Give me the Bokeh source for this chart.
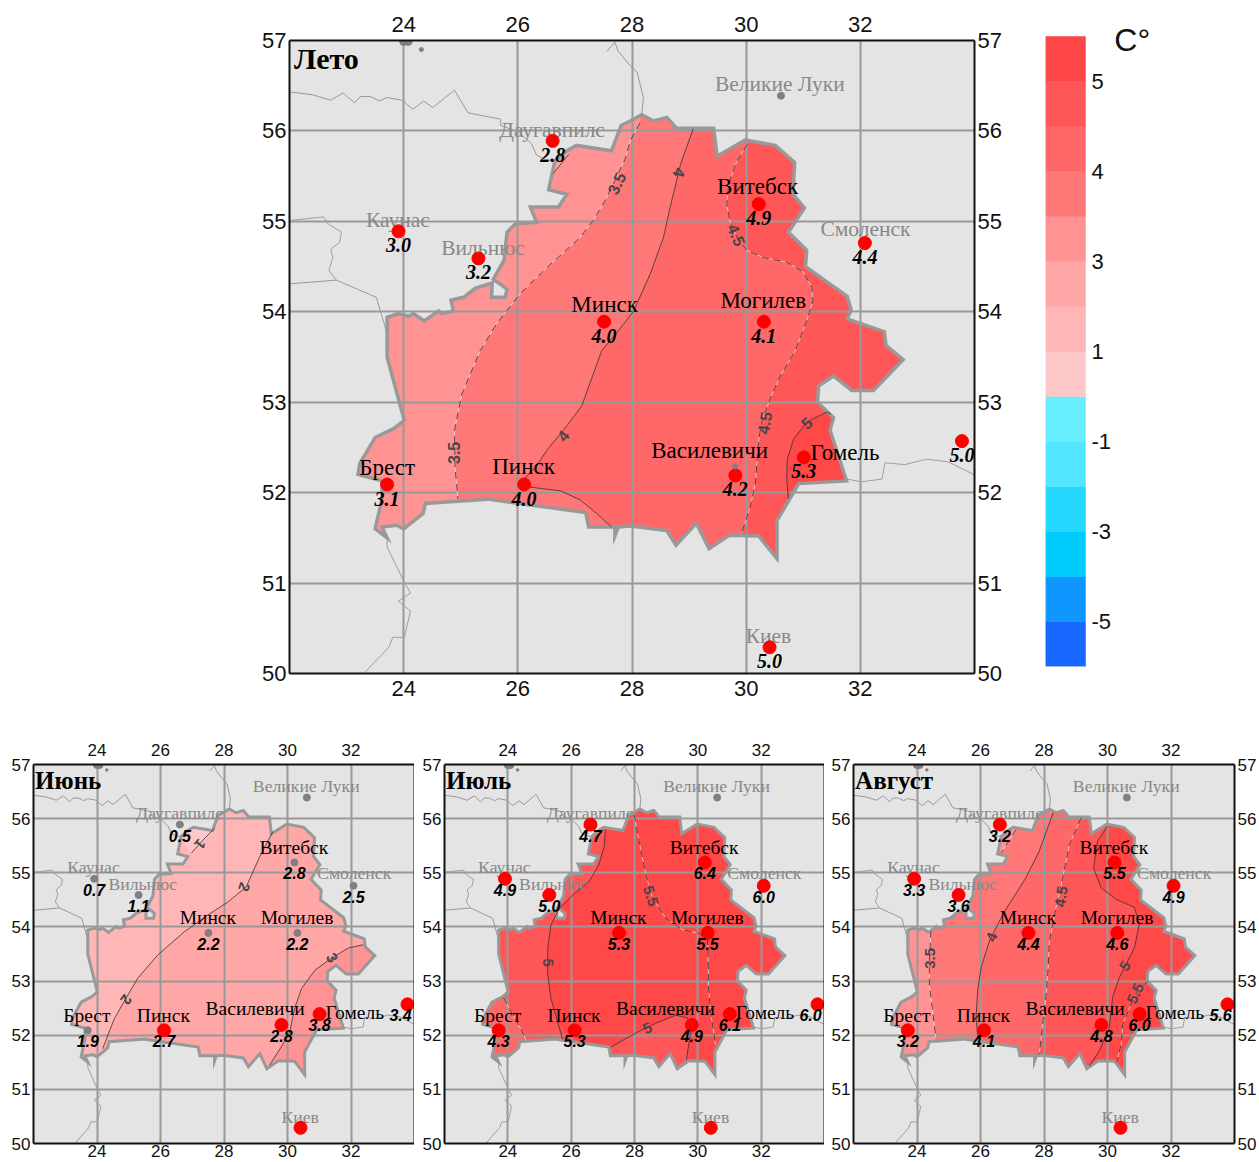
from bokeh.plotting import figure
from bokeh.layouts import column, row
from bokeh.models import Range1d, LinearAxis, FixedTicker, Grid
from bokeh.core.properties import value
from bokeh.embed import file_html
from bokeh.resources import INLINE

# ---------- data ----------
BORDER_LON = [23.71,23.71,23.91,24.09,24.17,24.36,24.61,24.67,24.87,24.83,25.05,25.25,25.55,25.54,25.78,25.81,25.57,25.76,25.81,25.95,26.33,26.22,26.71,26.86,26.54,26.65,26.86,27.03,27.64,27.81,27.97,28.17,28.38,28.61,28.78,29.43,29.49,29.98,30.51,30.85,30.82,31.02,30.74,31.06,31.04,31.77,31.84,31.77,32.42,32.45,32.75,32.23,31.85,31.53,31.27,31.25,31.53,31.47,31.76,30.92,30.54,30.54,30.22,29.71,29.35,29.13,28.77,28.61,27.97,27.76,27.70,27.70,27.24,27.19,25.57,25.52,24.38,24.34,24.00,23.88,23.62,23.71,23.50,23.62,23.62,23.20,23.23,23.50,23.83,24.01]
BORDER_LAT = [53.50,53.94,53.98,53.95,53.98,53.90,54.01,53.98,54.01,54.13,54.16,54.26,54.32,54.16,54.16,54.25,54.36,54.57,54.88,54.97,54.99,55.16,55.16,55.30,55.35,55.67,55.78,55.84,55.78,56.06,56.11,56.18,56.11,56.15,56.03,56.03,55.72,55.90,55.84,55.65,55.30,55.15,54.88,54.68,54.50,54.17,54.02,53.92,53.78,53.63,53.47,53.13,53.13,53.29,53.18,53.00,52.83,52.69,52.13,52.10,51.69,51.27,51.52,51.53,51.38,51.66,51.42,51.58,51.63,51.62,51.52,51.62,51.62,51.78,51.92,51.93,51.88,51.77,51.60,51.64,51.62,51.50,51.60,51.93,52.13,52.20,52.32,52.61,52.71,52.80]

NEIGHBOUR_LINES = [
    ([22.02,22.40,22.72,22.94,23.14,23.24,23.42,23.58,23.70,23.97,24.16,24.35,24.51,24.89,25.13,25.70,25.70,26.01,26.24,26.33,26.50,26.65],
     [56.43,56.40,56.34,56.42,56.31,56.38,56.38,56.33,56.37,56.34,56.24,56.33,56.26,56.45,56.20,56.13,56.06,55.99,55.86,55.73,55.68,55.67]),
    ([22.02,22.60,22.66,22.91,22.88,22.72,22.76,22.69,22.82], [55.01,55.05,54.98,54.88,54.77,54.69,54.60,54.46,54.35]),
    ([22.02,22.82,23.52,23.71], [54.31,54.35,54.16,53.76]),
    ([23.71,23.71,24.01,24.12,23.91,24.12,24.01,23.81,23.74,23.30], [51.50,51.40,51.01,50.89,50.80,50.69,50.40,50.40,50.29,50.00]),
    ([27.56,27.70,27.76,27.97,28.09,28.20,28.17], [56.88,56.98,56.88,56.72,56.65,56.37,56.18]),
    ([31.76,32.02,32.38,32.43,32.78,33.16,33.54,33.99], [52.15,52.12,52.15,52.33,52.31,52.37,52.34,52.20]),
]

CITY_NAMES = ["Даугавпилс","Каунас","Вильнюс","Минск","Витебск","Смоленск","Могилев","Брест","Пинск","Василевичи","Гомель","Киев",""]
CITY_LON = [26.61,23.91,25.31,27.51,30.22,32.08,30.31,23.71,26.11,29.81,31.01,30.41,33.78]
CITY_LAT = [55.89,54.89,54.59,53.89,55.19,54.76,53.89,52.09,52.09,52.19,52.39,50.29,52.57]
CITY_FOREIGN = [True,True,True,False,False,True,False,False,False,False,False,True,True]

SUMMER_VALUES = ["2.8","3.0","3.2","4.0","4.9","4.4","4.1","3.1","4.0","4.2","5.3","5.0","5.0"]
JUNE_VALUES   = ["0.5","0.7","1.1","2.2","2.8","2.5","2.2","1.9","2.7","2.8","3.8","","3.4"]
JULY_VALUES   = ["4.7","4.9","5.0","5.3","6.4","6.0","5.5","4.3","5.3","4.9","6.1","","6.0"]
AUGUST_VALUES = ["3.2","3.3","3.6","4.4","5.5","4.9","4.6","3.2","4.1","4.8","6.0","","5.6"]
JUNE_RED = [8,9,10,11,12]

LEGEND_COLORS = ["#1766FF","#1097FF","#00CCFF","#25D8FF","#55E6FF","#66EEFF","#FFC8C8","#FFB6B6","#FFA7A7","#FF9292","#FF7878","#FF6868","#FF5757","#FF4646"]
LEGEND_LABELS = ["-5","-3","-1","1","3","4","5"]
LEGEND_LABEL_AT = [1,3,5,7,9,11,13]

C0,C1,C2,C3,C35,C4,C45,C5 = "#FFC8C8","#FFB6B6","#FFA7A7","#FF9292","#FF7878","#FF6868","#FF5757","#FF4848"

# contour: (level text, lon, lat, fill colour or None, fill kind)
SUMMER_CONTOURS = [
    ("3.5",[28.14,27.97,27.88,27.70,27.53,27.32,27.09,26.51,26.04,25.63,25.34,25.02,24.89,24.90,24.95],[56.09,55.89,55.69,55.45,55.23,55.01,54.82,54.49,54.20,53.87,53.57,53.09,52.69,52.28,51.93],C35,"east"),
    ("4",[29.07,28.85,28.67,28.55,28.32,28.03,27.76,27.47,27.32,27.12,26.86,26.51,26.33,26.11,26.22,26.75,27.09,27.38,27.64],[56.02,55.63,55.16,54.82,54.42,54.01,53.79,53.57,53.31,52.96,52.74,52.47,52.30,52.15,52.06,52.02,51.92,51.77,51.62],C4,"east"),
    ("4.5",[30.02,29.84,29.69,29.66,29.72,29.84,30.01,30.30,30.71,31.00,31.15,31.17,31.06,30.86,30.59,30.42,30.27,30.22,30.16,30.07,29.92],[55.85,55.67,55.41,55.19,54.99,54.82,54.68,54.60,54.55,54.44,54.27,54.12,53.90,53.57,53.28,53.04,52.78,52.58,52.10,51.84,51.55],C45,"east"),
    ("5",[31.48,31.41,31.06,30.83,30.72,30.71,30.74],[52.87,52.89,52.78,52.59,52.37,52.15,51.93],C5,"east_low"),
    ("3",[26.89,26.62],[55.74,55.53],C2,"pocket_nw"),
]
JUNE_CONTOURS = [
    ("2",[29.54,29.12,28.70,28.12,27.49,26.75,25.91,25.28,24.91,24.55,24.34,24.18],[55.76,55.29,54.74,54.46,54.22,53.91,53.48,53.05,52.68,52.31,52.00,51.75],C2,"east"),
    ("3",[32.38,31.91,31.38,30.86,30.44,30.22,30.07,29.80,29.44],[53.67,53.61,53.42,53.20,52.86,52.49,52.06,51.78,51.45],C3,"east_low"),
    ("1",[27.70,27.23,26.97],[55.82,55.54,55.36],C0,"pocket_nw"),
]
JULY_CONTOURS = [
    ("4.5",[23.86,24.16,24.58],[52.69,52.38,51.92],C45,"east_west"),
    ("5",[27.08,27.05,26.87,26.57,26.05,25.63,25.36,25.26,25.26,25.36,25.57,25.73],[55.79,55.51,55.14,54.84,54.59,54.34,54.04,53.61,53.12,52.68,52.25,51.92],C5,"east"),
    ("5",[27.25,28.04,28.67,29.30,29.67,29.80,29.72,29.64],[51.78,52.04,52.22,52.37,52.32,52.12,51.86,51.55],C45,"pocket_s"),
    ("5.5",[27.99,28.15,28.36,28.57,28.99,29.51,30.04,30.30,30.33,30.33,30.40,30.56],[56.07,55.57,54.96,54.53,54.16,53.95,53.88,53.79,53.36,52.93,52.44,51.82],None,""),
]
AUGUST_CONTOURS = [
    ("3.5",[24.44,24.39,24.39,24.49,24.60],[53.93,53.37,52.94,52.45,51.93],C35,"east"),
    ("3.5",[27.12,26.96,26.65],[55.80,55.65,55.37],C3,"pocket_nw"),
    ("4",[28.29,27.85,27.43,26.70,26.28,26.02,25.91,25.86,25.91],[56.11,55.40,54.91,54.23,53.74,53.25,52.82,52.33,51.99],C4,"east"),
    ("4.5",[29.17,28.80,28.59,28.38,28.17,28.12,28.06,27.96,27.85],[56.02,55.52,54.91,54.36,53.74,53.13,52.70,52.21,51.65],C45,"east"),
    ("5",[30.00,29.69,29.56,29.80,30.27,30.85,31.00,30.85,30.37,30.16,30.06,29.74,29.43],[55.86,55.59,55.09,54.72,54.51,54.36,54.05,53.62,53.06,52.70,52.14,51.71,51.43],C5,"east"),
    ("5.5",[31.27,30.95,30.74,30.48,30.43,30.29],[53.00,52.82,52.57,52.20,51.83,51.50],None,""),
]

# contour label: text, lon, lat, angle
SUMMER_CLABELS = [("3.5",27.73,55.42,65),("4",28.83,55.54,-105),("4.5",29.83,54.85,-66),("3.5",24.89,52.44,90),("4",26.79,52.63,50),("4.5",30.32,52.77,80),("5",31.06,52.77,40)]
JUNE_CLABELS = [("1",27.24,55.53,-130),("2",28.63,54.74,-110),("2",24.91,52.66,-125),("3",31.40,53.43,-60)]
JULY_CLABELS = [("5",25.26,53.34,-90),("5.5",28.51,54.57,-72),("5",28.41,52.13,25)]
AUGUST_CLABELS = [("3.5",24.41,53.42,90),("4",26.35,53.81,65),("4.5",28.54,54.56,82),("5",30.55,53.28,55),("5.5",30.88,52.77,65)]

# name label centres
MAIN_NAME_LON = [26.60,23.90,25.39,27.52,30.20,32.09,30.30,23.71,26.10,29.36,31.73,30.39]
MAIN_NAME_LAT = [56.01,55.02,54.71,54.08,55.39,54.91,54.12,52.28,52.29,52.47,52.44,50.41]
SMALL_NAME_LON = [26.60,23.89,25.44,27.49,30.20,32.10,30.30,23.68,26.09,28.98,32.12,30.40]
SMALL_NAME_LAT = [56.11,55.11,54.79,54.17,55.47,55.00,54.17,52.36,52.36,52.49,52.42,50.49]

SERIF = value("Liberation Serif")
SANS = value("Liberation Sans")
GRAY = "#999999"
BG = "#E4E4E4"
LEFT, RIGHT, SOUTH, NORTH = 22.2, 33.9, 50.6, 56.7

def make_map(width, height, left, right, top, bottom, tick_px, side_labels=(True, True), vert=6, below=6):
    p = figure(frame_width=width-left-right, frame_height=height-top-bottom, width=width, height=height,
               min_border_left=left, min_border_right=right, min_border_top=top, min_border_bottom=bottom,
               x_range=Range1d(22, 34), y_range=Range1d(50, 57),
               x_axis_type=None, y_axis_type=None,
               output_backend="svg", toolbar_location=None,
               background_fill_color=BG, border_fill_color="white", outline_line_color=None)
    xt = FixedTicker(ticks=[24,26,28,30,32]); yt = FixedTicker(ticks=[50,51,52,53,54,55,56,57])
    def ax(tk, where, off):
        a = LinearAxis(ticker=tk, axis_line_color="#111111", axis_line_width=2, major_tick_line_color=None, minor_tick_line_color=None,
                       major_tick_out=0, major_tick_in=0, minor_tick_out=0, minor_tick_in=0,
                       major_label_text_font="Liberation Sans", major_label_text_font_size=f"{tick_px}px",
                       major_label_text_color="#111111", major_label_standoff=off)
        p.add_layout(a, where)
    ax(xt,"below",below); ax(xt,"above",vert)
    ax(yt if side_labels[0] else FixedTicker(ticks=[]),"left",3)
    ax(yt if side_labels[1] else FixedTicker(ticks=[]),"right",3)
    p.add_layout(Grid(dimension=0, ticker=xt, grid_line_color=GRAY, grid_line_width=2, level="underlay"))
    p.add_layout(Grid(dimension=1, ticker=yt, grid_line_color=GRAY, grid_line_width=2, level="underlay"))
    return p

def draw_fill(p, base, contours):
    p.patch([LEFT,RIGHT,RIGHT,LEFT],[SOUTH,SOUTH,NORTH,NORTH], fill_color=base, line_color=None, level="image")
    pockets = []
    for lvl, lon, lat, col, kind in contours:
        if col is None: continue
        if kind == "east":
            xs = lon+[lon[-1],RIGHT,RIGHT,lon[0]]; ys = lat+[SOUTH,SOUTH,NORTH,NORTH]
        elif kind == "east_low":
            xs = lon+[lon[-1],RIGHT,RIGHT]; ys = lat+[SOUTH,SOUTH,lat[0]]
        elif kind == "east_west":
            xs = lon+[lon[-1],RIGHT,RIGHT,LEFT]; ys = lat+[SOUTH,SOUTH,NORTH,NORTH]
        elif kind == "pocket_nw":
            xs = lon+[lon[-1]-0.4,lon[0]-0.4]; ys = lat+[lat[-1]+0.3,lat[0]+0.5]
            pockets.append((xs,ys,col)); continue
        elif kind == "pocket_s":
            xs = lon+[lon[-1],lon[0]]; ys = lat+[SOUTH+0.3,SOUTH+0.3]
            pockets.append((xs,ys,col)); continue
        p.patch(xs, ys, fill_color=col, line_color=None, level="image")
    for xs,ys,col in pockets:
        p.patch(xs, ys, fill_color=col, line_color=None, level="image")
    # everything outside the country is covered again by the map background
    p.multi_polygons(xs=[[[[21,35,35,21], BORDER_LON]]], ys=[[[[49,49,58,58], BORDER_LAT]]],
                     fill_color=BG, line_color=None, level="image")

def draw_lines(p, contours, weight):
    for i,(x,y) in enumerate(NEIGHBOUR_LINES):
        p.line(x, y, line_color="#a89a9a" if i in (1,3,5) else "#999999", line_width=1)
    p.patch(BORDER_LON+BORDER_LON[:1], BORDER_LAT+BORDER_LAT[:1], fill_color=None, line_color="#999999", line_width=weight, line_join="miter")
    for lvl, lon, lat, col, kind in contours:
        if "." in lvl:
            p.line(lon, lat, line_color="white", line_width=0.8, line_alpha=0.7)
            p.line(lon, lat, line_color="#222222", line_width=0.8, line_dash="7 5")
        else:
            p.line(lon, lat, line_color="#333333", line_width=0.8)

def draw_clabels(p, labels, px):
    p.text([l[1] for l in labels],[l[2] for l in labels],text=[l[0] for l in labels],
           angle=[l[3] for l in labels], angle_units="deg",
           text_font=SANS, text_font_size=f"{px}px", text_font_style="bold", text_color="#4a444a",
           text_align="center", text_baseline="middle")

def draw_places(p, values, name_lon, name_lat, name_px, foreign_px, val_font, val_px, val_off, last_shift, red_idx=None):
    big = name_px > 20
    p.scatter([24.0,24.08],[56.99,56.99], size=8 if big else 7, color="#808080")
    p.scatter([24.31],[56.90], size=4 if big else 2.5, color="#808080")
    p.scatter([30.61],[56.39], size=7, color="#808080")
    n = len(name_lon)
    fx = [name_lon[i] for i in range(n) if CITY_FOREIGN[i]]; fy = [name_lat[i] for i in range(n) if CITY_FOREIGN[i]]
    ft = [CITY_NAMES[i] for i in range(n) if CITY_FOREIGN[i]]
    fx.append(30.59); fy.append(56.52 if big else 56.61); ft.append("Великие Луки")
    p.text(fx,fy,text=ft,text_font=SERIF,text_font_size=f"{foreign_px}px",text_color="#888888",text_align="center",text_baseline="middle")
    bx = [name_lon[i] for i in range(n) if not CITY_FOREIGN[i]]; by = [name_lat[i] for i in range(n) if not CITY_FOREIGN[i]]
    bt = [CITY_NAMES[i] for i in range(n) if not CITY_FOREIGN[i]]
    p.text(bx,by,text=bt,text_font=SERIF,text_font_size=f"{name_px}px",text_color="#000000",text_align="center",text_baseline="middle")
    red = list(range(len(CITY_LON))) if red_idx is None else red_idx
    gray = [i for i in range(len(CITY_LON)) if i not in red]
    if gray:
        p.scatter([CITY_LON[i] for i in gray],[CITY_LAT[i] for i in gray], size=7, color="#808080")
    p.scatter([CITY_LON[i] for i in red],[CITY_LAT[i] for i in red], size=13, color="#FF0000")
    last = len(CITY_LON)-1
    style = dict(y_offset=val_off, text_font=val_font, text_font_size=f"{val_px}px", text_font_style="bold italic",
                 text_color="#000000", text_align="center", text_baseline="middle")
    p.text(CITY_LON[:last], CITY_LAT[:last], text=values[:last], **style)
    # the eastern station's value would run over the frame, so it is moved in a little
    p.text(CITY_LON[last:], CITY_LAT[last:], text=values[last:], x_offset=last_shift, **style)

def title(p, txt, lon, lat, px):
    p.text([lon],[lat],text=[txt],text_font=SERIF,text_font_size=f"{px}px",text_font_style="bold",
           text_color="#000000",text_align="left",text_baseline="middle")

# main map
m = make_map(1030, 700, 289, 56, 40, 27, 22, vert=9, below=7)
draw_fill(m, C3, SUMMER_CONTOURS)
draw_lines(m, SUMMER_CONTOURS, 3.5)
draw_clabels(m, SUMMER_CLABELS, 16)
draw_places(m, SUMMER_VALUES, MAIN_NAME_LON, MAIN_NAME_LAT, 23, 21.5, SERIF, 20, 14, 0)
m.scatter([29.81],[52.29], size=5, color="#808080")
title(m, "Лето", 22.08, 56.8, 30)

# legend
lg = figure(width=135, height=700, min_border_left=15, min_border_right=0, min_border_top=22, min_border_bottom=34,
            frame_width=120, frame_height=644,
            x_range=Range1d(0,3), y_range=Range1d(0,14.311), x_axis_type=None, y_axis_type=None,
            output_backend="svg", toolbar_location=None, outline_line_color=None)
lg.quad(left=0, right=1, bottom=list(range(14)), top=list(range(1,15)), fill_color=LEGEND_COLORS, line_color=LEGEND_COLORS, line_width=0.5)
lg.text([1.15]*7, LEGEND_LABEL_AT, text=LEGEND_LABELS, text_font=SANS, text_font_size="22px", text_color="#111111",
        text_align="left", text_baseline="middle")
lg.text([1.72],[13.93], text=["C°"], text_font=SANS, text_font_size="32px", text_color="#111111",
        text_align="left", text_baseline="middle")

# small maps
j = make_map(414, 462, 33, 0, 64, 19, 17, (True, False), vert=9, below=1)
draw_fill(j, C1, JUNE_CONTOURS); draw_lines(j, JUNE_CONTOURS, 3); draw_clabels(j, JUNE_CLABELS, 15)
draw_places(j, JUNE_VALUES, SMALL_NAME_LON, SMALL_NAME_LAT, 19.5, 17.7, SANS, 16, 11, -7, JUNE_RED)
title(j, "Июнь", 22.05, 56.7, 25)

k = make_map(410, 462, 30, 0, 64, 19, 17, (True, False), vert=9, below=1)
draw_fill(k, C4, JULY_CONTOURS); draw_lines(k, JULY_CONTOURS, 3); draw_clabels(k, JULY_CLABELS, 15)
draw_places(k, JULY_VALUES, SMALL_NAME_LON, SMALL_NAME_LAT, 19.5, 17.7, SANS, 16, 11, -7)
title(k, "Июль", 22.05, 56.7, 25)

a = make_map(435, 462, 29, 25, 64, 19, 17, (True, True), vert=9, below=1)
draw_fill(a, C3, AUGUST_CONTOURS); draw_lines(a, AUGUST_CONTOURS, 3); draw_clabels(a, AUGUST_CLABELS, 15)
draw_places(a, AUGUST_VALUES, SMALL_NAME_LON, SMALL_NAME_LAT, 19.5, 17.7, SANS, 16, 11, -7)
title(a, "Август", 22.05, 56.7, 25)

page = column(row(m, column(lg)), row(j, k, a))
open("out.html", "w").write(file_html(page, INLINE))
